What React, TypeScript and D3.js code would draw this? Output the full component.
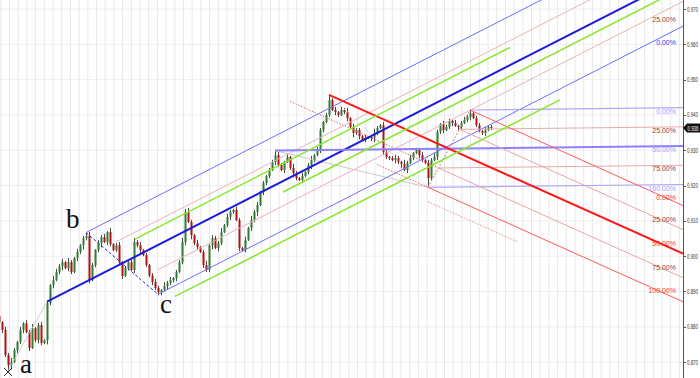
import React from "react";
import * as d3 from "d3";

// ---------- DATA ----------
// closing prices (in 1/10000 units), one per bar
const closesPips: number[] = [
  8813, 8791, 8720, 8691, 8700, 8734, 8757, 8791, 8810, 8785,
  8740, 8796, 8762, 8805, 8754, 8762, 8867, 8918, 8932, 8955,
  8972, 8983, 8966, 8983, 8955, 8995, 9012, 9031, 9051, 9057,
  8932, 8975, 9017, 9037, 9054, 9040, 9068, 9034, 9017, 9031,
  8983, 8944, 8966, 8983, 8961, 9040, 9031, 9017, 9003, 8975,
  8946, 8927, 8910, 8898, 8904, 8915, 8924, 8932, 8938, 8955,
  8983, 9040, 9125, 9097, 9060, 9037, 9026, 9012, 8975, 8961,
  9031, 9051, 9023, 9037, 9068, 9088, 9111, 9125, 9131, 9102,
  9023, 9017, 9046, 9080, 9102, 9125, 9145, 9182, 9207, 9227,
  9244, 9267, 9286, 9258, 9244, 9267, 9281, 9250, 9235, 9221,
  9216, 9227, 9238, 9258, 9272, 9286, 9301, 9357, 9380, 9400,
  9442, 9414, 9408, 9400, 9414, 9408, 9391, 9366, 9349, 9357,
  9340, 9329, 9335, 9337, 9335, 9349, 9363, 9371, 9295, 9281,
  9278, 9272, 9278, 9267, 9261, 9244, 9264, 9278, 9292, 9301,
  9286, 9272, 9264, 9221, 9272, 9281, 9352, 9374, 9357, 9366,
  9383, 9377, 9369, 9366, 9377, 9386, 9394, 9405, 9391, 9371,
  9354, 9349, 9357, 9366, 9363,
];
const firstOpenPips = 8830;
// upper / lower wick lengths per bar, in units of 3/10000
const wickUpRows = [
  "2132421313", "2412312143", "2314213123", "4213231412", "3121342312",
  "1232142312", "2434213124", "1322413213", "2131423121", "2243213142",
  "1312413212", "5231324132", "2131242132", "1232142312", "2313242132",
  "2131232312", "21312",
];
const wickDownRows = [
  "2325413231", "3123214231", "2413213242", "3122413212", "2312132412",
  "2323313223", "1231423132", "2413212321", "3121324132", "2132131242",
  "1312421321", "2132123142", "3121342132", "2132413121", "3219213231",
  "2313212312", "12312",
];
const wickUnit = 0.0003;

const yTicks = [0.87, 0.88, 0.89, 0.9, 0.91, 0.92, 0.93, 0.94, 0.95, 0.96, 0.97];
const lastPriceLabel = "0.936";

// pitchfork pivots (bar index, price)
const pivotA = { i: 3, p: 0.8675 };
const pivotB = { i: 29, p: 0.9067 };
const pivotC = { i: 53, p: 0.8892 };
const redP1 = { i: 110, p: 0.9457 };
const swingLow = { i: 143, p: 0.9195 };
const swingHigh = { i: 157, p: 0.9414 };
const purpleP1 = { i: 92, p: 0.9299 };

const levelValues = [0, 0.25, 0.5, 0.75, 1];
const levelLabels = ["0.00%", "25.00%", "50.00%", "75.00%", "100.00%"];
// extra parallel (green) lines of the blue fork: level, from bar, to bar
const greenLevels = [0.68, 0.39, -0.11];
const greenFrom = [45.3, 94.7, 58.7];
const greenTo = [170.3, 240, 187];

// ---------- LAYOUT ----------
const W = 700;
const H = 378;
const plotRight = 683;
const lastIndex = 228;

type Pt = { i: number; p: number };

function makeFork(origin: Pt, h0: Pt, h1: Pt) {
  const handle = (L: number) => ({ i: h0.i + L * (h1.i - h0.i), p: h0.p + L * (h1.p - h0.p) });
  const mid = handle(0.5);
  const s = (mid.p - origin.p) / (mid.i - origin.i);
  const priceAt = (L: number, i: number) => {
    const h = handle(L);
    return h.p + s * (i - h.i);
  };
  return { handle, mid, s, priceAt, origin };
}

export default function App() {
  const x = d3.scaleLinear().domain([0, lastIndex]).range([-1, plotRight]);
  const y = d3.scaleLinear().domain([0.8655, 0.97255]).range([H, 0]);

  const wUp = wickUpRows.join("");
  const wDn = wickDownRows.join("");
  const candles = closesPips.map((c, i) => {
    const o = i === 0 ? firstOpenPips : closesPips[i - 1];
    const close = c / 10000;
    const open = o / 10000;
    const hi = Math.max(open, close) + (+wUp[i] || 2) * wickUnit;
    const lo = Math.min(open, close) - (+wDn[i] || 2) * wickUnit;
    return { i, open, close, hi, lo };
  });

  const mAB = { i: (pivotA.i + pivotB.i) / 2, p: (pivotA.p + pivotB.p) / 2 };
  const blue = makeFork(mAB, pivotC, pivotB);
  const red = makeFork(redP1, swingHigh, swingLow);
  const purple = makeFork(purpleP1, swingHigh, swingLow);

  const line = d3.line<[number, number]>().x((d) => x(d[0])).y((d) => y(d[1]));

  const seg = (f: ReturnType<typeof makeFork>, L: number, from: number, to: number) =>
    line([
      [from, f.priceAt(L, from)],
      [to, f.priceAt(L, to)],
    ]) as string;

  type Style = { stroke: string; width: number; labelColor: string };
  const forkLines = (
    f: ReturnType<typeof makeFork>,
    styles: Style[],
    starts?: (number | null)[]
  ) =>
    levelValues.map((L, k) => {
      const from = L === 0.5 ? f.origin.i : starts && starts[k] != null ? (starts[k] as number) : f.handle(L).i;
      return { L, k, from, d: seg(f, L, from, lastIndex), st: styles[k] };
    });

  const blueStyles: Style[] = [
    { stroke: "#6f6fff", width: 1, labelColor: "#3535ff" },
    { stroke: "#e8b4b4", width: 1, labelColor: "#a03a3a" },
    { stroke: "#1c1cd8", width: 2, labelColor: "#1c1cd8" },
    { stroke: "#e8b4b4", width: 1, labelColor: "#a03a3a" },
    { stroke: "#6f6fff", width: 1, labelColor: "#3535ff" },
  ];
  const redStyles: Style[] = [
    { stroke: "#ff5a5a", width: 1, labelColor: "#ff3030" },
    { stroke: "#e6a6a6", width: 1, labelColor: "#a03a3a" },
    { stroke: "#ff1818", width: 2, labelColor: "#ff3030" },
    { stroke: "#e6a6a6", width: 1, labelColor: "#a03a3a" },
    { stroke: "#ff5a5a", width: 1, labelColor: "#ff3030" },
  ];
  const purpleStyles: Style[] = [
    { stroke: "#b0a6ff", width: 1.2, labelColor: "#a89eff" },
    { stroke: "#e6abab", width: 1, labelColor: "#a03a3a" },
    { stroke: "#8e80ff", width: 2, labelColor: "#a89eff" },
    { stroke: "#e6abab", width: 1, labelColor: "#a03a3a" },
    { stroke: "#b0a6ff", width: 1.2, labelColor: "#a89eff" },
  ];

  const blueL = forkLines(blue, blueStyles, [null, 53, null, 39, null]);
  const redL = forkLines(red, redStyles);
  const purpleL = forkLines(purple, purpleStyles);

  const labelFor = (f: ReturnType<typeof makeFork>, L: number, text: string, color: string, key: string) => {
    const right = 676;
    const left = right - text.length * 3.7;
    const ly = y(f.priceAt(L, x.invert(left)));
    if (ly < 3 || ly > H - 8) return null;
    return (
      <text key={key} x={right} y={ly + 1} textAnchor="end" dominantBaseline="hanging" fontSize={7} fill={color} fontFamily="Liberation Sans, Arial, sans-serif">
        {text}
      </text>
    );
  };

  const vGrid = d3.range(0.6, lastIndex, 2.9);
  const lastClose = candles[candles.length - 1].close;
  const tagY = y(lastClose);

  const serif = "Liberation Serif, 'Times New Roman', DejaVu Serif, serif";

  return (
    <div style={{ position: "absolute", left: 0, top: 0 }}>
      <svg width={W} height={H} style={{ display: "block", background: "#fff" }}>
        <defs>
          <clipPath id="plot">
            <rect x={0} y={0} width={plotRight} height={H} />
          </clipPath>
        </defs>
        <rect x={0} y={0} width={W} height={H} fill="#fff" />
        {/* grid */}
        <g>
          {vGrid.map((g, k) => (
            <line key={k} x1={x(g)} x2={x(g)} y1={0} y2={H} stroke="#e8e8e8" strokeWidth={1} />
          ))}
          {yTicks.map((t) => (
            <line key={t} x1={0} x2={plotRight} y1={y(t)} y2={y(t)} stroke="#eeeeee" strokeWidth={1} />
          ))}
        </g>
        <g clipPath="url(#plot)">
          {/* candles */}
          {candles.map((c) => {
            const cx = Math.round(x(c.i)) + 0.5;
            const up = c.close >= c.open;
            const top = y(Math.max(c.open, c.close));
            const bot = y(Math.min(c.open, c.close));
            return (
              <g key={c.i}>
                <line x1={cx} x2={cx} y1={y(c.hi)} y2={y(c.lo)} stroke="#4a4a4a" strokeWidth={1} />
                <rect x={cx - 1} y={top} width={2} height={Math.max(1, bot - top)} fill={up ? "#2f7d32" : "#b01212"} />
              </g>
            );
          })}

          {/* blue fork handles */}
          <path d={line([[pivotA.i, pivotA.p], [mAB.i, mAB.p]]) as string} stroke="#c4c4c4" strokeWidth={0.8} fill="none" />
          <path d={line([[pivotB.i, pivotB.p], [pivotC.i, pivotC.p]]) as string} stroke="#2a2ad8" strokeWidth={1} strokeDasharray="3,2" fill="none" />
          {/* purple / red handles */}
          <path d={line([[purpleP1.i, purpleP1.p], [swingLow.i, swingLow.p]]) as string} stroke="#bdbdbd" strokeWidth={0.8} fill="none" />
          <path d={line([[redP1.i, redP1.p], [swingLow.i, swingLow.p]]) as string} stroke="#cfcfcf" strokeWidth={0.8} strokeDasharray="2,2" fill="none" />
          <path d={line([[swingLow.i, swingLow.p], [swingHigh.i, swingHigh.p]]) as string} stroke="#e07a7a" strokeWidth={1} strokeDasharray="2,1.5" fill="none" />

          {/* red dotted back extensions */}
          <path d={seg(red, 0.75, 97, red.handle(0.75).i)} stroke="#e26a6a" strokeWidth={1} strokeDasharray="1.5,1.5" fill="none" />
          <path d={seg(red, 1, 126, swingLow.i)} stroke="#e26a6a" strokeWidth={1} strokeDasharray="1.5,1.5" fill="none" />
          <path d={seg(red, 1.15, swingLow.i, 173)} stroke="#e88a8a" strokeWidth={1} strokeDasharray="1.5,1.5" fill="none" />

          {/* fork lines */}
          {[...blueL, ...purpleL, ...redL].map((l, k) => (
            <path key={k} d={l.d} stroke={l.st.stroke} strokeWidth={l.st.width} fill="none" />
          ))}
          {greenLevels.map((L, k) => (
            <path key={"g" + k} d={seg(blue, L, greenFrom[k], greenTo[k])} stroke="#86e82c" strokeWidth={1.5} fill="none" />
          ))}

          {/* X marker at a */}
          <path
            d={`M${x(pivotA.i) - 4},${y(pivotA.p) - 3}L${x(pivotA.i) + 4},${y(pivotA.p) + 5}M${x(pivotA.i) + 4},${y(pivotA.p) - 3}L${x(pivotA.i) - 4},${y(pivotA.p) + 5}`}
            stroke="#222"
            strokeWidth={1}
            fill="none"
          />
        </g>

        {/* level labels */}
        {blueL.map((l) => labelFor(blue, l.L, levelLabels[l.k], l.st.labelColor, "bl" + l.k))}
        {purpleL.map((l) => labelFor(purple, l.L, levelLabels[l.k], l.st.labelColor, "pl" + l.k))}
        {redL.map((l) => labelFor(red, l.L, levelLabels[l.k], l.st.labelColor, "rl" + l.k))}

        {/* wave letters */}
        <text x={x(pivotA.i) + 12} y={y(pivotA.p) + 2} fontFamily={serif} fontSize={27} fill="#111">a</text>
        <text x={x(pivotB.i) - 20} y={y(pivotB.p) - 5} fontFamily={serif} fontSize={27} fill="#111">b</text>
        <text x={x(pivotC.i) + 2} y={y(pivotC.p) + 19} fontFamily={serif} fontSize={27} fill="#111">c</text>

        {/* right axis */}
        <line x1={plotRight + 0.5} x2={plotRight + 0.5} y1={0} y2={H} stroke="#555" strokeWidth={1} />
        {yTicks.map((t) => (
          <g key={"t" + t}>
            <line x1={plotRight} x2={plotRight + 3} y1={Math.round(y(t)) + 0.5} y2={Math.round(y(t)) + 0.5} stroke="#555" />
            <text x={plotRight + 4} y={y(t)} dominantBaseline="central" fontSize={6.5} textLength={11} lengthAdjust="spacingAndGlyphs" fill="#333" fontFamily="Liberation Sans, Arial, sans-serif">
              {d3.format(".3f")(t)}
            </text>
          </g>
        ))}
        <path
          d={`M${plotRight},${tagY}L${plotRight + 4},${tagY - 4.5}L${W},${tagY - 4.5}L${W},${tagY + 4.5}L${plotRight + 4},${tagY + 4.5}Z`}
          fill="#111"
        />
        <text x={plotRight + 4.5} y={tagY} dominantBaseline="central" fontSize={6.5} textLength={11} lengthAdjust="spacingAndGlyphs" fill="#fff" fontFamily="Liberation Sans, Arial, sans-serif">
          {lastPriceLabel}
        </text>
      </svg>
    </div>
  );
}
